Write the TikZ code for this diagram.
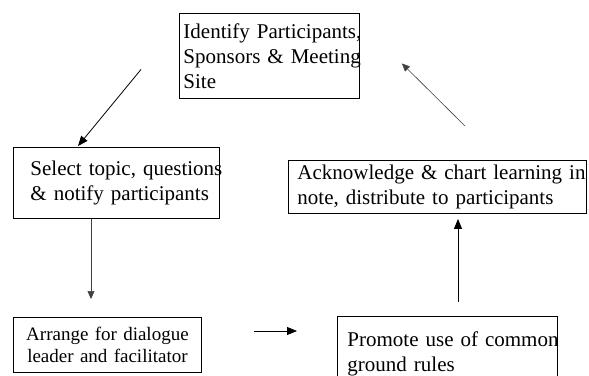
\documentclass[tikz,border=0pt]{standalone}
\usepackage{fontspec}
\setmainfont{Liberation Serif}
\usepackage{tikz}
\usetikzlibrary{positioning,calc,arrows.meta}

\tikzset{
  stepbox/.style={draw, line width=0.9pt, anchor=north west, inner ysep=2pt,
    font=\fontsize{21}{25}\selectfont},
  flow/.style={line width=0.8pt, -{Triangle[length=10pt,width=8pt]}},
  thinflow/.style={line width=0.6pt, draw=black!75, -{Triangle[length=8pt,width=7pt]}}
}

\begin{document}
\begin{tikzpicture}[x=1pt, y=-1pt]
  \useasboundingbox (0,0) rectangle (589,375);

  \node[stepbox, align=left, text width=172pt, inner xsep=4pt, minimum height=85pt] (identify) at (179,13)
    {\mbox{Identify Participants,}\\\mbox{Sponsors \& Meeting}\\Site};
  \node[stepbox, align=left, text width=172pt, inner xsep=17pt, minimum height=71pt] (select) at (13,147)
    {\mbox{Select topic, questions}\\\mbox{\& notify participants}};
  \node[stepbox, align=left, text width=280pt, inner xsep=9pt, minimum height=53pt] (acknowledge) at (288,160)
    {\mbox{Acknowledge \& chart learning in}\\\mbox{note, distribute to participants}};
  \node[stepbox, align=center, text width=180pt, inner xsep=4pt, minimum height=55pt,
    font=\fontsize{19}{22}\selectfont] (arrange) at (13,317)
    {\mbox{Arrange for dialogue}\\\mbox{leader and facilitator}};
  \node[stepbox, align=left, text width=200pt, inner xsep=10pt, minimum height=74pt] (promote) at (337,316)
    {\mbox{Promote use of common}\\\mbox{ground rules}};

  % Arrows
  \draw[flow] ([xshift=-38pt,yshift=-13.5pt]identify.west) -- ([xshift=65pt,yshift=1pt]select.north west);
  \draw[thinflow] ([xshift=78pt]select.south west) -- ([xshift=78pt,yshift=18pt]arrange.north west);
  \draw[flow] ([xshift=52pt,yshift=-14pt]arrange.north east) -- ([xshift=-40pt,yshift=-15pt]promote.north west);
  \draw[flow] ([xshift=121pt,yshift=14pt]promote.north west) -- ([xshift=170pt,yshift=-5pt]acknowledge.south west);
  \draw[thinflow] ([xshift=177pt,yshift=34pt]acknowledge.north west) -- ([xshift=42pt,yshift=-7.5pt]identify.east);
\end{tikzpicture}
\end{document}
